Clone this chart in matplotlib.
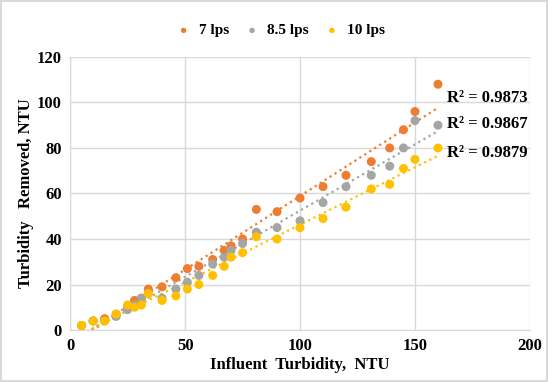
import numpy as np
import matplotlib
matplotlib.use('Agg')
import matplotlib.pyplot as plt

plt.rcParams['font.family'] = 'Liberation Serif'
plt.rcParams['font.weight'] = 'bold'

influent = [5, 10, 15, 20, 25, 28, 31, 34, 40, 46, 51, 56, 62, 67, 70, 75,
            81, 90, 100, 110, 120, 131, 139, 145, 150, 160]
removed_7 = [2, 4, 5, 7, 10, 13, 14, 18, 19, 23, 27, 28, 31, 35, 37, 40,
             53, 52, 58, 63, 68, 74, 80, 88, 96, 108]
removed_85 = [2, 4, 4, 6, 9, 11, 14, 16, 14, 18, 21, 24, 29, 32, 35, 38,
              43, 45, 48, 56, 63, 68, 72, 80, 92, 90]
removed_10 = [2, 4, 4, 7, 11, 10, 11, 16, 13, 15, 18, 20, 24, 28, 32, 34,
              41, 40, 45, 49, 54, 62, 64, 71, 75, 80]

labels = ['7 lps', '8.5 lps', '10 lps']
colors = ['#ED7D31', '#A5A5A5', '#FFC000']
r2_labels = ['R² = 0.9873', 'R² = 0.9867', 'R² = 0.9879']
r2_y = [102, 90.5, 78]

fig = plt.figure(figsize=(5.48, 3.82), dpi=100, edgecolor='#d9d9d9', linewidth=1.5)
ax = fig.add_axes([0.128, 0.136, 0.839, 0.715])

x = np.array(influent)
for ys, lab, c, r2, ty in zip([removed_7, removed_85, removed_10], labels, colors, r2_labels, r2_y):
    ys = np.array(ys)
    ax.scatter(x, ys, s=42, color=c, label=lab, zorder=3, edgecolors='none')
    m, b = np.polyfit(x, ys, 1)
    xx = np.array([x.min(), x.max()])
    ax.plot(xx, m * xx + b, ':', color=c, lw=1.6, zorder=2)
    ax.text(164, ty, r2, fontsize=12, fontweight='bold', va='center', ha='left')

ax.set_xlim(0, 200)
ax.set_ylim(0, 120)
ax.set_xticks(range(0, 201, 50))
ax.set_yticks(range(0, 121, 20))
ax.grid(True, color='#d9d9d9', lw=1)
ax.set_axisbelow(True)
ax.tick_params(length=0, labelsize=12, pad=6)
for s in ['top', 'right']:
    ax.spines[s].set_visible(False)
for s in ['left', 'bottom']:
    ax.spines[s].set_color('#d9d9d9')

ax.set_xlabel('Influent  Turbidity,  NTU', fontsize=12, fontweight='bold', labelpad=2)
ax.set_ylabel('Turbidity   Removed, NTU', fontsize=12, fontweight='bold', labelpad=2)

fig.legend(loc='center', bbox_to_anchor=(0.505, 0.92), ncol=3, frameon=False,
           fontsize=11, markerscale=0.6, handletextpad=0.0, columnspacing=0.5)

fig.savefig('out.png', dpi=100)
